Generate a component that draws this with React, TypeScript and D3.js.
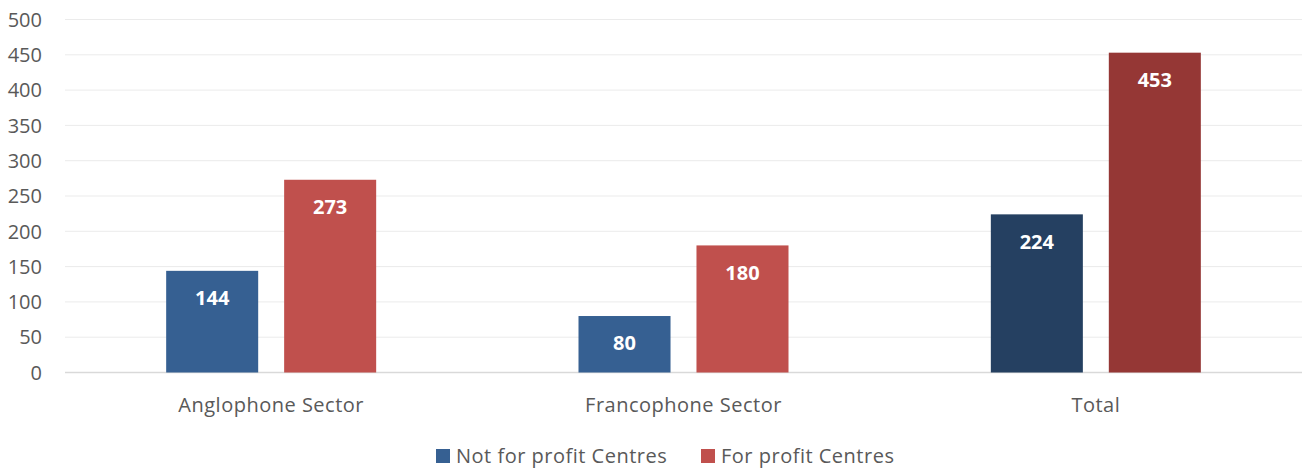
import * as d3 from 'd3';
import { useEffect, useRef } from 'react';

const categories = ['Anglophone Sector', 'Francophone Sector', 'Total'];
const seriesNames = ['Not for profit Centres', 'For profit Centres'];
const notForProfit = [144, 80, 224];
const forProfit = [273, 180, 453];
const yTicks = [0, 50, 100, 150, 200, 250, 300, 350, 400, 450, 500];

export default function App() {
    const ref = useRef<HTMLDivElement>(null);

    useEffect(() => {
        document.body.style.margin = '0';
        document.body.style.overflow = 'hidden';

        const width = 1311;
        const height = 470;
        const font = '"Open Sans", sans-serif';
        const textColor = '#595959';
        // normal colours, then darker ones for the Total group
        const colors = [
            ['#366092', '#C0504D'],
            ['#366092', '#C0504D'],
            ['#254061', '#953735']
        ];
        const legendColors = ['#366092', '#C0504D'];

        ref.current!.innerHTML = '';
        const svg = d3
            .create('svg')
            .attr('width', width)
            .attr('height', height)
            .style('display', 'block');
        ref.current!.append(svg.node()!);

        const x = d3.scaleBand<string>().domain(categories).range([65, 1302]);
        const groupW = 210;
        const xInner = d3
            .scaleBand<string>()
            .domain(seriesNames)
            .range([0, groupW])
            .paddingInner(0.22);
        const y = d3.scaleLinear().domain([0, 500]).range([372.5, 19.5]);

        // grid
        svg
            .append('g')
            .selectAll('line')
            .data(yTicks)
            .join('line')
            .attr('x1', 65)
            .attr('x2', 1302)
            .attr('y1', d => y(d))
            .attr('y2', d => y(d))
            .attr('stroke', d => (d === 0 ? '#d9d9d9' : '#ebebeb'))
            .attr('stroke-width', d => (d === 0 ? 1.5 : 1));

        svg
            .append('g')
            .selectAll('text')
            .data(yTicks)
            .join('text')
            .attr('x', 42)
            .attr('y', d => y(d))
            .attr('dy', '0.36em')
            .attr('text-anchor', 'end')
            .attr('font-family', font)
            .attr('font-size', 20)
            .attr('fill', textColor)
            .text(d => d);

        const rows = categories.map((c, i) => ({
            cat: i,
            vals: [notForProfit[i], forProfit[i]]
        }));

        const groups = svg
            .selectAll('g.grp')
            .data(rows)
            .join('g')
            .attr('class', 'grp')
            .attr('transform', d => `translate(${x(categories[d.cat])! + x.bandwidth() / 2 - groupW / 2},0)`);

        groups
            .selectAll('rect')
            .data(d => d.vals.map((v, s) => ({ v, s, cat: d.cat })))
            .join('rect')
            .attr('x', d => xInner(seriesNames[d.s])!)
            .attr('width', xInner.bandwidth())
            .attr('y', d => y(d.v))
            .attr('height', d => y(0) - y(d.v))
            .attr('fill', d => colors[d.cat][d.s]);

        groups
            .selectAll('text')
            .data(d => d.vals.map((v, s) => ({ v, s })))
            .join('text')
            .attr('x', d => xInner(seriesNames[d.s])! + xInner.bandwidth() / 2)
            .attr('y', d => y(d.v) + 27)
            .attr('dy', '0.36em')
            .attr('text-anchor', 'middle')
            .attr('font-family', font)
            .attr('font-size', 20)
            .attr('font-weight', 700)
            .attr('fill', 'white')
            .text(d => d.v);

        // category labels
        svg
            .append('g')
            .selectAll('text')
            .data(categories)
            .join('text')
            .attr('x', d => x(d)! + x.bandwidth() / 2)
            .attr('y', 405)
            .attr('dy', '0.36em')
            .attr('text-anchor', 'middle')
            .attr('font-family', font)
            .attr('font-size', 20)
            .attr('letter-spacing', 0.5)
            .attr('fill', textColor)
            .text(d => d);

        // legend
        const legendX = [436, 701];
        const legend = svg
            .selectAll('g.legend')
            .data(seriesNames)
            .join('g')
            .attr('class', 'legend')
            .attr('transform', (d, i) => `translate(${legendX[i]},449)`);

        legend
            .append('rect')
            .attr('width', 14)
            .attr('height', 14)
            .attr('fill', (d, i) => legendColors[i]);

        legend
            .append('text')
            .attr('x', 20)
            .attr('y', 7)
            .attr('dy', '0.36em')
            .attr('font-family', font)
            .attr('font-size', 20)
            .attr('letter-spacing', 0.5)
            .attr('fill', textColor)
            .text(d => d);
    }, []);

    return <div ref={ref}></div>;
}
